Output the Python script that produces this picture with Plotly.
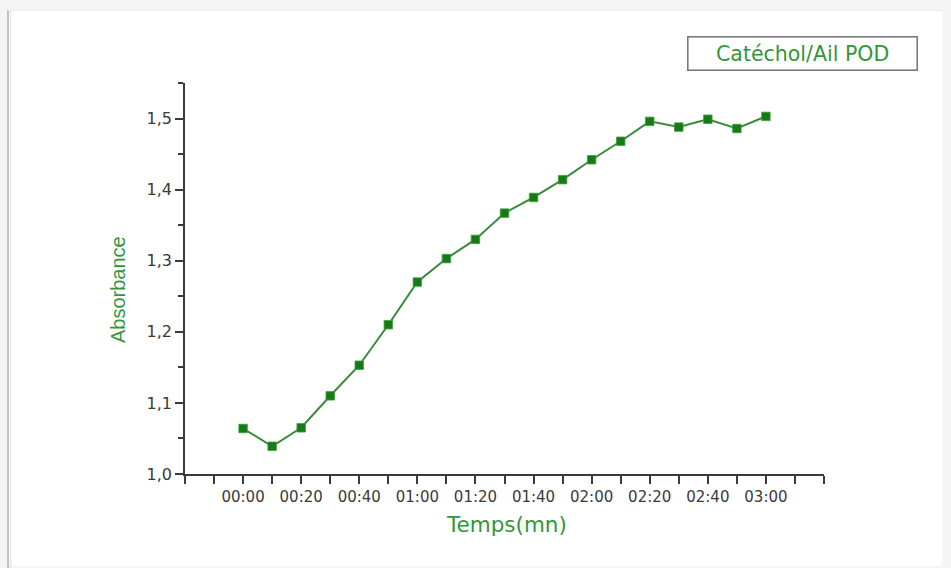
import plotly.graph_objects as go

# Kinetics of catechol oxidation by garlic peroxidase
temps_s = [0, 10, 20, 30, 40, 50, 60, 70, 80, 90, 100, 110, 120, 130, 140, 150, 160, 170, 180]
absorbance = [1.064, 1.039, 1.065, 1.110, 1.153, 1.210, 1.270, 1.303, 1.330, 1.367,
              1.389, 1.414, 1.442, 1.468, 1.496, 1.488, 1.499, 1.486, 1.503]

x_tickvals = list(range(-20, 201, 10))
x_ticktext = ["", "", "00:00", "", "00:20", "", "00:40", "", "01:00", "", "01:20", "",
              "01:40", "", "02:00", "", "02:20", "", "02:40", "", "03:00", "", ""]
y_tickvals = [1.0, 1.1, 1.2, 1.3, 1.4, 1.5]
y_ticktext = ["1,0", "1,1", "1,2", "1,3", "1,4", "1,5"]

series_name = "Catéchol/Ail POD"
x_title = "Temps(mn)"
y_title = "Absorbance"

W, H = 951, 568
L, R, T, B = 185, 824, 83, 474  # plot area in pixels

def px(x):
    return (x - L) / (R - L)

def py(y):
    return (B - y) / (B - T)

TEXT_GREEN = "#33963a"
AXIS = "#3a3a3a"

fig = go.Figure()
fig.add_trace(go.Scatter(
    x=temps_s, y=absorbance, mode="lines+markers", name=series_name,
    line=dict(color="#3a8a3a", width=2),
    marker=dict(symbol="square", size=8.5, color="#167a16",
                line=dict(color="#3f9f3f", width=0.8)),
    showlegend=False,
))

shapes = [
    # white page with a soft grey edge
    dict(type="rect", xref="paper", yref="paper", x0=px(9), x1=px(942), y0=py(10), y1=py(566),
         fillcolor="white", line=dict(width=0), layer="below"),
    dict(type="line", xref="paper", yref="paper", x0=px(8), x1=px(8), y0=py(10), y1=py(568),
         line=dict(color="#c2c2c2", width=2), layer="below"),
    dict(type="line", xref="paper", yref="paper", x0=px(10.5), x1=px(10.5), y0=py(10), y1=py(568),
         line=dict(color="#e6e6e6", width=1.5), layer="below"),
    dict(type="line", xref="paper", yref="paper", x0=px(8), x1=px(942), y0=py(10.5), y1=py(10.5),
         line=dict(color="#ececec", width=1), layer="below"),
]

annotations = [
    dict(text=series_name, xref="paper", yref="paper", x=px(802), y=py(54),
         xanchor="center", yanchor="middle", showarrow=False,
         font=dict(family="DejaVu Sans", size=20.5, color=TEXT_GREEN),
         bordercolor="#7a7a7a", borderwidth=1.6, borderpad=3, width=222, height=26,
         bgcolor="white"),
    dict(text=x_title, xref="paper", yref="paper", x=px(507), y=py(524),
         xanchor="center", yanchor="middle", showarrow=False,
         font=dict(family="DejaVu Sans", size=21.5, color=TEXT_GREEN)),
    dict(text=y_title, xref="paper", yref="paper", x=px(118), y=py(290),
         xanchor="center", yanchor="middle", showarrow=False, textangle=-90,
         font=dict(family="Liberation Sans", size=20, color=TEXT_GREEN)),
]

fig.update_layout(
    width=W, height=H,
    margin=dict(l=L, r=W - R, t=T, b=H - B),
    paper_bgcolor="#f5f5f5", plot_bgcolor="rgba(0,0,0,0)",
    shapes=shapes, annotations=annotations,
    font=dict(family="DejaVu Sans", color=AXIS),
)

fig.update_xaxes(
    range=[-20, 200], tickvals=x_tickvals, ticktext=x_ticktext,
    ticks="outside", ticklen=8, tickwidth=1.5, tickcolor=AXIS,
    showline=True, linecolor=AXIS, linewidth=1.5, showgrid=False, zeroline=False,
    tickfont=dict(family="DejaVu Sans", size=15, color=AXIS),
)
fig.update_yaxes(
    range=[1.0, 1.55], tickvals=y_tickvals, ticktext=y_ticktext,
    ticks="outside", ticklen=8, tickwidth=1.5, tickcolor=AXIS,
    minor=dict(tickvals=[1.05, 1.15, 1.25, 1.35, 1.45, 1.55], ticks="outside",
               ticklen=5, tickwidth=1.5, tickcolor=AXIS),
    showline=True, linecolor=AXIS, linewidth=1.5, showgrid=False, zeroline=False,
    tickfont=dict(family="DejaVu Sans", size=16, color=AXIS),
)

fig.write_html("out.html")
